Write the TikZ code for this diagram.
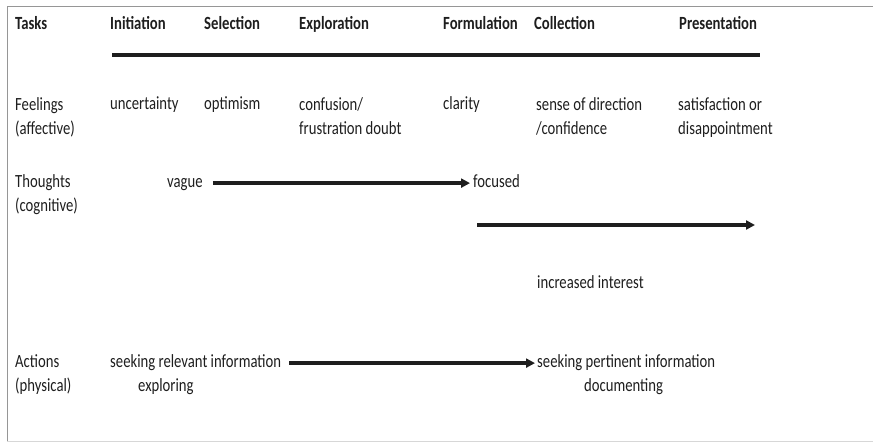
\documentclass[tikz,border=0pt]{standalone}
\usepackage{fontspec}
\setmainfont{Carlito}[FakeStretch=0.79]
\usetikzlibrary{arrows.meta}
\definecolor{txt}{RGB}{30,30,30}
\definecolor{frame}{RGB}{150,150,150}
\definecolor{framelight}{RGB}{215,215,215}
\tikzset{
  lbl/.style={anchor=base west,inner sep=0pt,text=txt,align=left,
    font=\fontsize{18.6pt}{24pt}\selectfont},
  hdr/.style={lbl,font=\fontsize{18.6pt}{24pt}\selectfont\bfseries},
  flow/.style={line width=3.6pt,-{Triangle[length=9pt,width=9pt]},txt},
  bar/.style={line width=4pt,txt}
}
\begin{document}
\begin{tikzpicture}[x=1pt,y=-1pt]
\useasboundingbox (0,0) rectangle (873,444);
% frame
\draw[frame,line width=1pt] (873,7) -- (7,7) -- (7,441);
\draw[framelight,line width=1pt] (7,441) -- (873,441);
% header
\node[hdr] (tasks) at (15,30) {Tasks};
\node[hdr] (init) at (110,30) {Initiation};
\node[hdr] (sel) at (204,30) {Selection};
\node[hdr] (expl) at (299,30) {Exploration};
\node[hdr] (form) at (443,30) {Formulation};
\node[hdr] (coll) at (534,30) {Collection};
\node[hdr] (pres) at (679,30) {Presentation};
\coordinate (barL) at (112,55);
\coordinate (barR) at (760,55);
\draw[bar] (barL) -- (barR);
% feelings (two-line nodes: anchor is the baseline of the last line)
\node[lbl] (feel) at (15,134) {Feelings\\(affective)};
\node[lbl] (unc) at (110,110) {uncertainty};
\node[lbl] (opt) at (204,110) {optimism};
\node[lbl] (conf) at (299,134) {confusion/\\frustration doubt};
\node[lbl] (clar) at (443,110) {clarity};
\node[lbl] (sense) at (536,134) {sense of direction\\/confidence};
\node[lbl] (sat) at (678,134) {satisfaction or\\disappointment};
% thoughts
\node[lbl] (thou) at (15,211) {Thoughts\\(cognitive)};
\node[lbl] (vague) at (167,187) {vague};
\node[lbl] (foc) at (473,187) {focused};
\draw[flow] ([xshift=10pt,yshift=1.5pt]vague.mid east) -- ([xshift=-3pt,yshift=1.5pt]foc.mid west);
\coordinate (intL) at (477,225);
\coordinate (intR) at (755,225);
\draw[flow] (intL) -- (intR);
\node[lbl] (inter) at (537,288) {increased interest};
% actions
\node[lbl] (act) at (15,391) {Actions\\(physical)};
\node[lbl] (rel) at (110,367) {seeking relevant information};
\node[lbl] (expg) at (138,391) {exploring};
\node[lbl] (pert) at (537,367) {seeking pertinent information};
\node[lbl] (doc) at (584,391) {documenting};
\draw[flow] ([xshift=8pt,yshift=1.5pt]rel.mid east) -- ([xshift=-2pt,yshift=1.5pt]pert.mid west);
\end{tikzpicture}
\end{document}
